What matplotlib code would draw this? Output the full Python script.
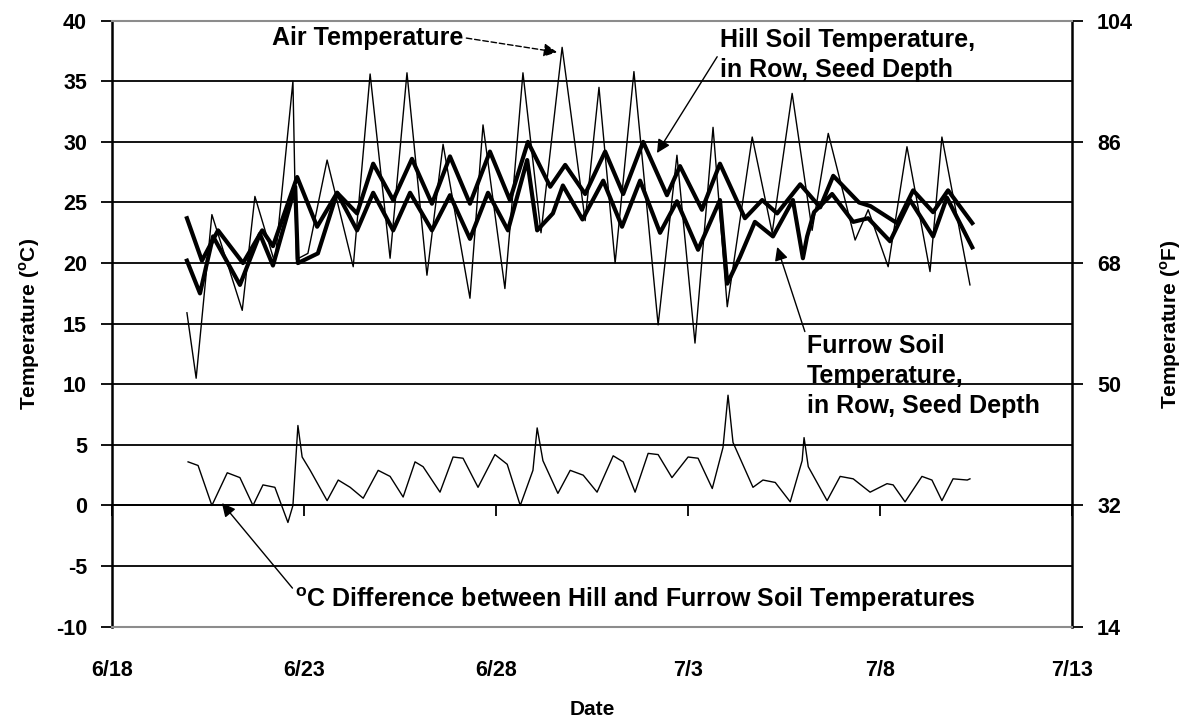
import matplotlib
matplotlib.use('Agg')
import matplotlib.pyplot as plt

# time axis is in "day of June" (7/1 = 31), readings taken off the chart
air_day = [19.95, 20.19, 20.60, 21.39, 21.72, 22.24, 22.71, 22.80, 23.10, 23.60,
           24.28, 24.72, 25.24, 25.68, 26.20, 26.62, 27.32, 27.66, 28.23, 28.70,
           29.17, 29.72, 30.32, 30.68, 31.10, 31.59, 32.22, 32.71, 33.18, 33.65,
           34.02, 34.67, 35.19, 35.71, 36.23, 36.65, 37.35, 37.69, 38.21, 38.70,
           39.30, 39.61, 40.34]
air_temp = [15.9, 10.5, 24.0, 16.1, 25.5, 20.0, 35.0, 20.3, 20.8, 28.5,
            19.7, 35.6, 20.4, 35.7, 19.0, 29.8, 17.1, 31.4, 17.9, 35.7,
            22.5, 37.8, 23.5, 34.5, 20.0, 35.8, 14.9, 28.9, 13.4, 31.2,
            16.4, 30.4, 22.5, 34.0, 22.7, 30.7, 21.9, 24.4, 19.7, 29.6,
            19.3, 30.4, 18.2]

hill_day = [19.95, 20.34, 20.76, 21.41, 21.91, 22.19, 22.82, 23.34, 23.86, 24.38,
            24.80, 25.32, 25.81, 26.33, 26.80, 27.32, 27.84, 28.36, 28.83, 29.41,
            29.80, 30.32, 30.84, 31.31, 31.83, 32.45, 32.79, 33.36, 33.83, 34.48,
            34.93, 35.32, 35.92, 36.44, 36.78, 37.45, 37.75, 38.44, 38.86, 39.38,
            39.77, 40.40]
hill_temp = [23.7, 20.2, 22.7, 20.0, 22.7, 21.4, 27.1, 23.0, 25.8, 24.1,
             28.2, 25.2, 28.6, 24.9, 28.8, 24.9, 29.2, 25.2, 30.0, 26.3,
             28.1, 25.7, 29.2, 25.7, 30.0, 25.6, 28.0, 24.4, 28.2, 23.7,
             25.2, 24.1, 26.5, 24.6, 27.2, 25.0, 24.7, 23.3, 26.0, 24.2,
             26.0, 23.3]

furrow_day = [19.95, 20.29, 20.63, 21.33, 21.85, 22.19, 22.77, 22.84, 23.36, 23.86,
              24.38, 24.80, 25.32, 25.76, 26.33, 26.80, 27.32, 27.79, 28.31, 28.81,
              29.07, 29.48, 29.74, 30.25, 30.79, 31.28, 31.75, 32.27, 32.71, 33.26,
              33.83, 34.02, 34.35, 34.74, 35.21, 35.73, 35.99, 36.10, 36.28, 36.75,
              37.30, 37.69, 38.26, 38.78, 39.38, 39.74, 40.40]
furrow_temp = [20.2, 17.5, 22.2, 18.2, 22.4, 19.8, 26.3, 20.0, 20.8, 25.8,
               22.7, 25.8, 22.7, 25.8, 22.7, 25.6, 22.0, 25.8, 22.7, 28.5,
               22.7, 24.1, 26.4, 23.6, 26.8, 23.0, 26.8, 22.5, 25.1, 21.1,
               25.2, 18.3, 20.5, 23.4, 22.2, 25.2, 20.4, 22.2, 24.2, 25.7,
               23.4, 23.7, 21.8, 25.2, 22.2, 25.4, 21.3]

diff_day = [19.98, 20.24, 20.60, 21.00, 21.33, 21.67, 21.93, 22.24, 22.58, 22.71,
            22.84, 22.95, 23.16, 23.60, 23.89, 24.20, 24.54, 24.93, 25.24, 25.58,
            25.89, 26.10, 26.54, 26.88, 27.14, 27.53, 27.97, 28.29, 28.63, 28.96,
            29.07, 29.22, 29.61, 29.93, 30.27, 30.63, 31.05, 31.31, 31.62, 31.96,
            32.22, 32.58, 33.00, 33.26, 33.63, 33.91, 34.04, 34.17, 34.69, 34.95,
            35.27, 35.66, 35.97, 36.02, 36.13, 36.62, 36.96, 37.30, 37.74, 38.18,
            38.34, 38.65, 39.09, 39.35, 39.61, 39.90, 40.27, 40.34]
diff_temp = [3.6, 3.3, 0.0, 2.7, 2.3, 0.0, 1.7, 1.5, -1.4, 0.0,
             6.6, 4.0, 2.9, 0.4, 2.1, 1.5, 0.6, 2.9, 2.4, 0.7,
             3.6, 3.2, 1.1, 4.0, 3.9, 1.5, 4.2, 3.4, 0.0, 2.9,
             6.4, 3.7, 1.0, 2.9, 2.5, 1.1, 4.1, 3.6, 1.1, 4.3,
             4.2, 2.3, 4.0, 3.9, 1.4, 4.8, 9.1, 5.2, 1.5, 2.1,
             1.9, 0.3, 3.7, 5.6, 3.2, 0.4, 2.4, 2.2, 1.1, 1.8,
             1.7, 0.3, 2.4, 2.1, 0.4, 2.2, 2.1, 2.2]

date_ticks = [18, 23, 28, 33, 38, 43]
date_labels = ['6/18', '6/23', '6/28', '7/3', '7/8', '7/13']
f_ticks = [14, 32, 50, 68, 86, 104]

plt.rcParams['font.family'] = 'Liberation Sans'
plt.rcParams['font.weight'] = 'bold'
plt.rcParams['axes.labelweight'] = 'bold'
plt.rcParams['axes.unicode_minus'] = False
plt.rcParams['mathtext.fontset'] = 'custom'
plt.rcParams['mathtext.rm'] = 'Liberation Sans:bold'
plt.rcParams['mathtext.bf'] = 'Liberation Sans:bold'

TICK_FS = 15.5
LABEL_FS = 15
NOTE_FS = 18

fig = plt.figure(figsize=(11.87, 7.23), dpi=100)
ax = fig.add_axes([0.0944, 0.1332, 0.8088, 0.8382])

ax.plot(air_day, air_temp, color='black', lw=1.0, zorder=3)
ax.plot(furrow_day, furrow_temp, color='black', lw=3.0, zorder=4)
ax.plot(hill_day, hill_temp, color='black', lw=3.0, zorder=4)
ax.plot(diff_day, diff_temp, color='black', lw=1.0, zorder=3)

ax.set_xlim(18, 43)
ax.set_ylim(-10, 40)
ax.set_yticks(range(-10, 41, 5))
ax.set_xticks(date_ticks)
ax.set_xticklabels(date_labels)
ax.yaxis.grid(True, color='black', lw=1.3)
ax.set_axisbelow(True)

for side in ['top', 'bottom']:
    ax.spines[side].set_color('#8c8c8c')
    ax.spines[side].set_linewidth(1.5)
ax.spines['left'].set_linewidth(1.8)
ax.spines['right'].set_visible(False)

ax.tick_params(axis='y', direction='out', length=8, width=1.3, pad=10,
               labelsize=TICK_FS)
ax.tick_params(axis='x', length=0, pad=24, labelsize=TICK_FS)
ax.set_ylabel('Temperature ($^{\\rm o}$C)', fontsize=LABEL_FS, labelpad=10)
ax.set_xlabel('Date', fontsize=LABEL_FS, labelpad=14)

# category axis crosses at 0 degC, as in the spreadsheet original
xax0 = ax.secondary_xaxis(0.2)
xax0.set_alignment('bottom')
xax0.set_xticks(date_ticks)
xax0.tick_params(axis='x', direction='out', length=8, width=1.3,
                 labelbottom=False, labeltop=False)
xax0.spines['bottom'].set_linewidth(1.3)

fax = ax.secondary_yaxis('right', functions=(lambda c: c * 1.8 + 32,
                                             lambda f: (f - 32) / 1.8))
fax.set_yticks(f_ticks)
fax.tick_params(direction='out', length=8, width=1.3, pad=10,
                labelsize=TICK_FS)
fax.spines['right'].set_linewidth(1.8)
fax.set_ylabel('Temperature ($^{\\rm o}$F)', fontsize=LABEL_FS, labelpad=18)

arrow = dict(arrowstyle='-|>', color='black', lw=1.0, mutation_scale=20,
             shrinkA=0, shrinkB=0)

ax.annotate('Air Temperature', xy=(29.59, 37.4), xytext=(22.17, 38.6),
            fontsize=NOTE_FS, ha='left', va='center',
            arrowprops=dict(arrow, linestyle=(0, (4, 2)), relpos=(1, 0.5)))
ax.annotate('Hill Soil Temperature,\nin Row, Seed Depth', xy=(32.19, 29.08),
            xytext=(33.83, 37.17), fontsize=NOTE_FS, ha='left', va='center',
            linespacing=1.3, arrowprops=dict(arrow, relpos=(0, 0.55)))
ax.annotate('Furrow Soil\nTemperature,\nin Row, Seed Depth', xy=(35.32, 21.33),
            xytext=(36.10, 10.68), fontsize=NOTE_FS, ha='left', va='center',
            linespacing=1.3, arrowprops=dict(arrow, relpos=(0, 0.95)))
ax.annotate('$^{\\rm o}$C Difference between Hill and Furrow Soil Temperatures',
            xy=(20.86, 0.2), xytext=(22.77, -7.8), fontsize=NOTE_FS,
            ha='left', va='center', arrowprops=dict(arrow, relpos=(0, 0.8)))

fig.savefig('out.png', dpi=100)
